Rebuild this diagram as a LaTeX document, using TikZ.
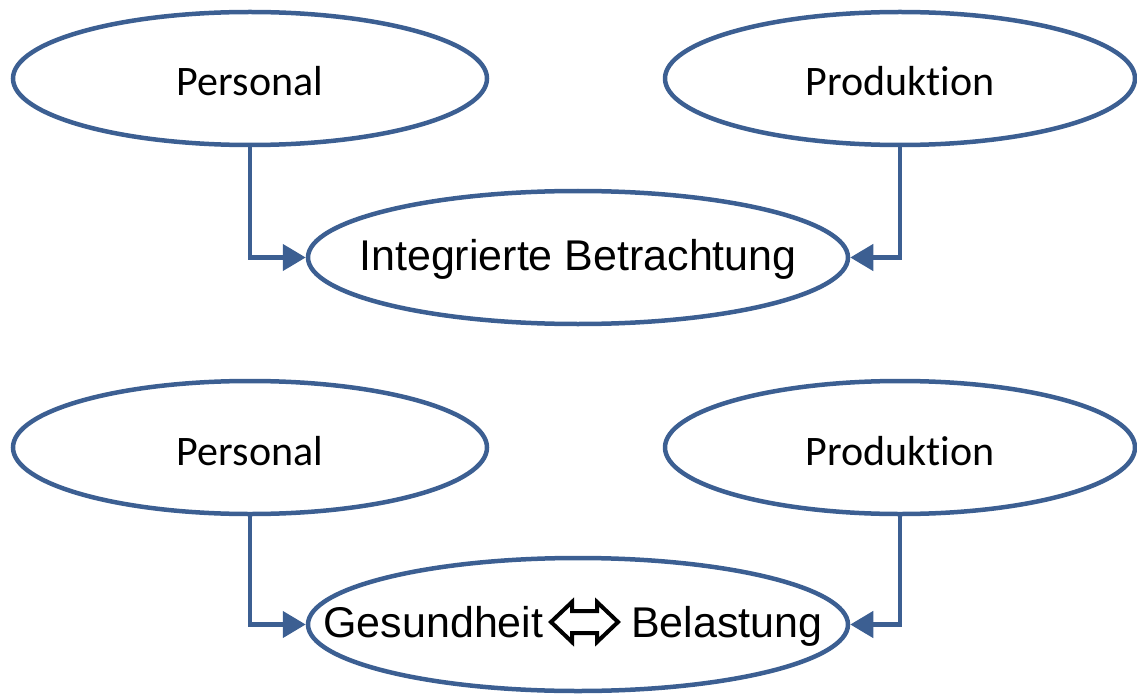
\documentclass[tikz,border=0pt]{standalone}
\usepackage{fontspec}
\setmainfont{Liberation Sans}
\newfontfamily\calibri[RawFeature={-liga;-clig;-dlig}]{Carlito}
\usetikzlibrary{arrows.meta,shapes.geometric}
\definecolor{outline}{HTML}{3C5F92}

\begin{document}
\begin{tikzpicture}[x=1pt,y=-1pt,
  oval/.style={ellipse, draw=outline, line width=4.5pt, inner sep=0pt,
    minimum height=133pt, text=black},
  side/.style={oval, minimum width=474pt,
    font=\calibri\fontsize{42}{50}\selectfont, text height=35pt, text depth=0pt},
  hub/.style={oval, minimum width=540pt,
    font=\fontsize{43}{52}\selectfont, text height=25pt, text depth=0pt},
  feed/.style={draw=outline, line width=4.5pt,
    -{Triangle[length=23pt,width=26pt]}},
  dblarrow/.style={draw=black, line width=4pt, line join=miter},
]
\useasboundingbox (0,0) rectangle (1137,695);

% upper group (labels in zero-width boxes so the ellipses keep their size)
\node[side] (pers1) at (250,78.5) {\makebox[0pt]{Personal}};
\node[side, minimum width=470pt] (prod1) at (900,78.5) {\makebox[0pt]{Produkt\kern0pt ion}};
\node[hub]  (integ) at (578,257.5) {\makebox[0pt]{Integrierte Betrachtung}};
\draw[feed] (pers1.south) |- (integ.west);
\draw[feed] (prod1.south) |- (integ.east);

% lower group
\node[side] (pers2) at (250,447.5) {\makebox[0pt]{Personal}};
\node[side, minimum width=470pt] (prod2) at (900,447.5) {\makebox[0pt]{Produkt\kern0pt ion}};
\node[hub]  (gesb)  at (578,624.5)
  {\makebox[0pt]{Gesundheit\hspace{88pt}Belastung\hspace{10pt}}};
\draw[feed] (pers2.south) |- (gesb.west);
\draw[feed] (prod2.south) |- (gesb.east);

% hollow two-headed arrow between the two words
\begin{scope}[shift={(gesb.center)}]
  \draw[dblarrow] (-27,-2.5) -- (-6,-22.5) -- (-6,-13.5) -- (19,-13.5)
    -- (19,-22.5) -- (40,-2.5) -- (19,17.5) -- (19,8.5) -- (-6,8.5)
    -- (-6,17.5) -- cycle;
\end{scope}
\end{tikzpicture}
\end{document}
